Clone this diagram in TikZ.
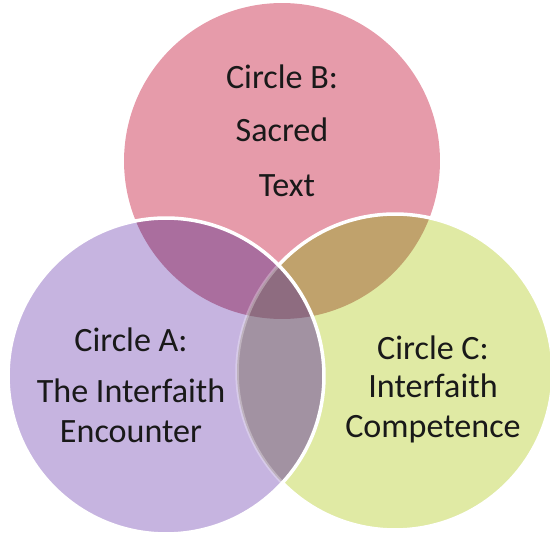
\documentclass[tikz,border=0pt]{standalone}
\usepackage{fontspec}
\setmainfont{Carlito}

\definecolor{circA}{RGB}{198,180,224}
\definecolor{circB}{RGB}{230,155,170}
\definecolor{circC}{RGB}{224,234,164}
\definecolor{circAB}{RGB}{170,110,158}
\definecolor{circBC}{RGB}{192,162,108}
\definecolor{circAC}{RGB}{162,146,162}
\definecolor{circABC}{RGB}{142,108,128}

\tikzset{
	ring/.style={draw=white,line width=2pt},
	label text/.style={anchor=base,font=\fontsize{19.4}{23}\selectfont,text=black!90}
}

\begin{document}
\begin{tikzpicture}[x=0.02cm,y=0.02cm]
	\useasboundingbox (0,0) rectangle (550,537);
	\def\rad{3.16cm}

	\coordinate (A) at (166,161);
	\coordinate (B) at (282,376);
	\coordinate (C) at (395,165);

	% B at the back, then C over it
	\fill[circB] (B) circle (\rad);
	\fill[circC] (C) circle (\rad);
	\begin{scope}
		\clip (B) circle (\rad);
		\fill[circBC] (C) circle (\rad);
	\end{scope}
	\draw[ring] (C) circle (\rad);

	% A on top
	\fill[circA] (A) circle (\rad);
	\begin{scope}
		\clip (A) circle (\rad);
		\fill[circAB] (B) circle (\rad);
		\fill[circAC] (C) circle (\rad);
		\begin{scope}
			\clip (B) circle (\rad);
			\fill[circABC] (C) circle (\rad);
		\end{scope}
		\draw[ring,draw opacity=0.3] (C) circle (\rad);
	\end{scope}
	\draw[ring] (A) circle (\rad);

	\node[label text] (bTitle) at (282,448) {Circle B:};
	\node[label text] (bWord1) at (282,395) {Sacred};
	\node[label text] (bWord2) at (287,340) {Text};

	\node[label text] (aTitle) at (131,185) {Circle A:};
	\node[label text] (aWord1) at (131,134) {The Interfaith};
	\node[label text] (aWord2) at (131,94) {Encounter};

	\node[label text] (cTitle) at (433,177) {Circle C:};
	\node[label text] (cWord1) at (433,139) {Interfaith};
	\node[label text] (cWord2) at (433,100) {Competence};

\end{tikzpicture}
\end{document}
